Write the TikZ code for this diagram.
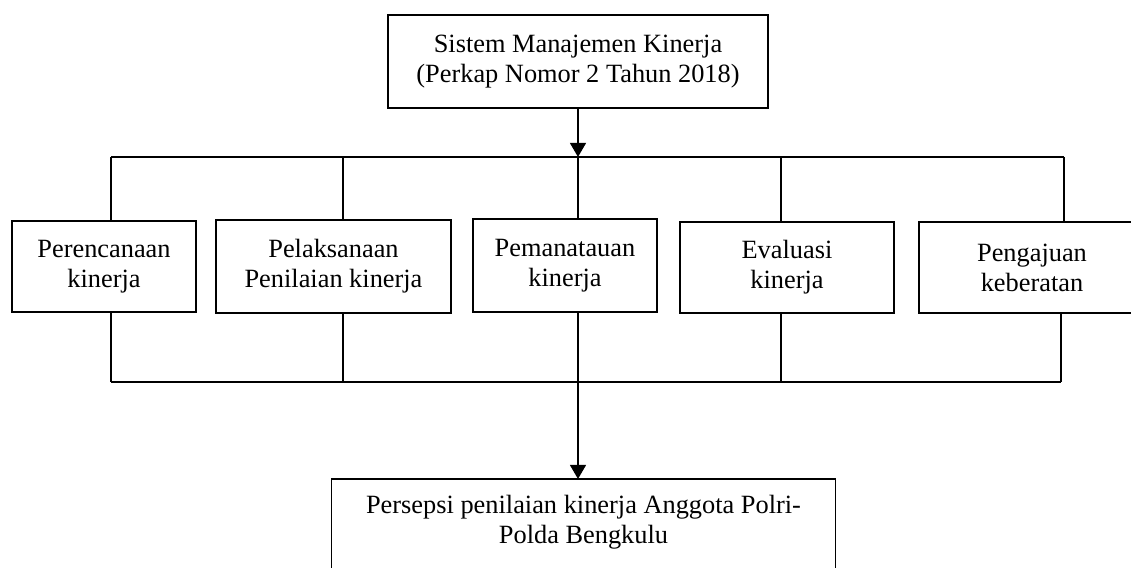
\documentclass[tikz,border=0pt]{standalone}
\usepackage{fontspec}
\setmainfont{Liberation Serif}
\usetikzlibrary{arrows.meta}

\begin{document}
\begin{tikzpicture}[x=0.2mm,y=-0.2mm,
    kotak/.style={draw,line width=0.7pt,inner sep=0pt,align=center,
      font=\fontsize{15pt}{17pt}\selectfont},
    garis/.style={line width=1.1pt},
    panah/.style={garis,-{Triangle[width=9pt,length=8pt]}}]
  \def\busatas{157};
  \def\busbawah{382};
  \useasboundingbox (0,0) rectangle (1131,568);
  \node[kotak,minimum width=76mm,minimum height=18.6mm] (sistem) at (578,61.5)
    {Sistem Manajemen Kinerja\\(Perkap Nomor 2 Tahun 2018)};
  \node[kotak,minimum width=36.8mm,minimum height=18.2mm] (rencana) at (104,266.5)
    {Perencanaan\\kinerja};
  \node[kotak,minimum width=47mm,minimum height=18.6mm] (laksana) at (333.5,266.5)
    {Pelaksanaan\\Penilaian kinerja};
  \node[kotak,minimum width=36.8mm,minimum height=18.6mm] (pantau) at (565,265.5)
    {Pemanatauan\\kinerja};
  \node[kotak,minimum width=42.8mm,minimum height=18.2mm] (evaluasi) at (787,267.5)
    {Evaluasi\\kinerja};
  \node[kotak,minimum width=45.2mm,minimum height=18.2mm] (keberatan) at (1032,267.5)
    {Pengajuan\\keberatan};
  \node[kotak,draw=none,minimum width=100.6mm,minimum height=17.2mm,anchor=north] (persepsi) at (583.5,479)
    {Persepsi penilaian kinerja Anggota Polri-\\Polda Bengkulu};
  \draw[line width=0.7pt] (persepsi.north west) ++(0,120) |- (persepsi.north east) -- ++(0,120);
  % cabang atas
  \coordinate (ka) at (111,\busatas);
  \coordinate (kb) at (1064,\busatas);
  \draw[panah] (sistem.south) -- (sistem.south |- ka);
  \draw[garis] (ka) -- (kb);
  \draw[garis] (ka) -- (rencana.north -| ka);
  \draw[garis] (343,\busatas) -- (laksana.north -| 343,0);
  \draw[garis] (578,\busatas) -- (pantau.north -| 578,0);
  \draw[garis] (781,\busatas) -- (evaluasi.north -| 781,0);
  \draw[garis] (kb) -- (keberatan.north -| kb);
  % cabang bawah
  \coordinate (kc) at (111,\busbawah);
  \coordinate (kd) at (1061,\busbawah);
  \draw[garis] (kc) -- (kd);
  \draw[garis] (rencana.south -| kc) -- (kc);
  \draw[garis] (laksana.south -| 343,0) -- (343,\busbawah);
  \draw[garis] (pantau.south -| 578,0) -- (578,\busbawah);
  \draw[garis] (evaluasi.south -| 781,0) -- (781,\busbawah);
  \draw[garis] (keberatan.south -| kd) -- (kd);
  \draw[panah] (578,\busbawah) -- (persepsi.north -| 578,0);
\end{tikzpicture}
\end{document}
